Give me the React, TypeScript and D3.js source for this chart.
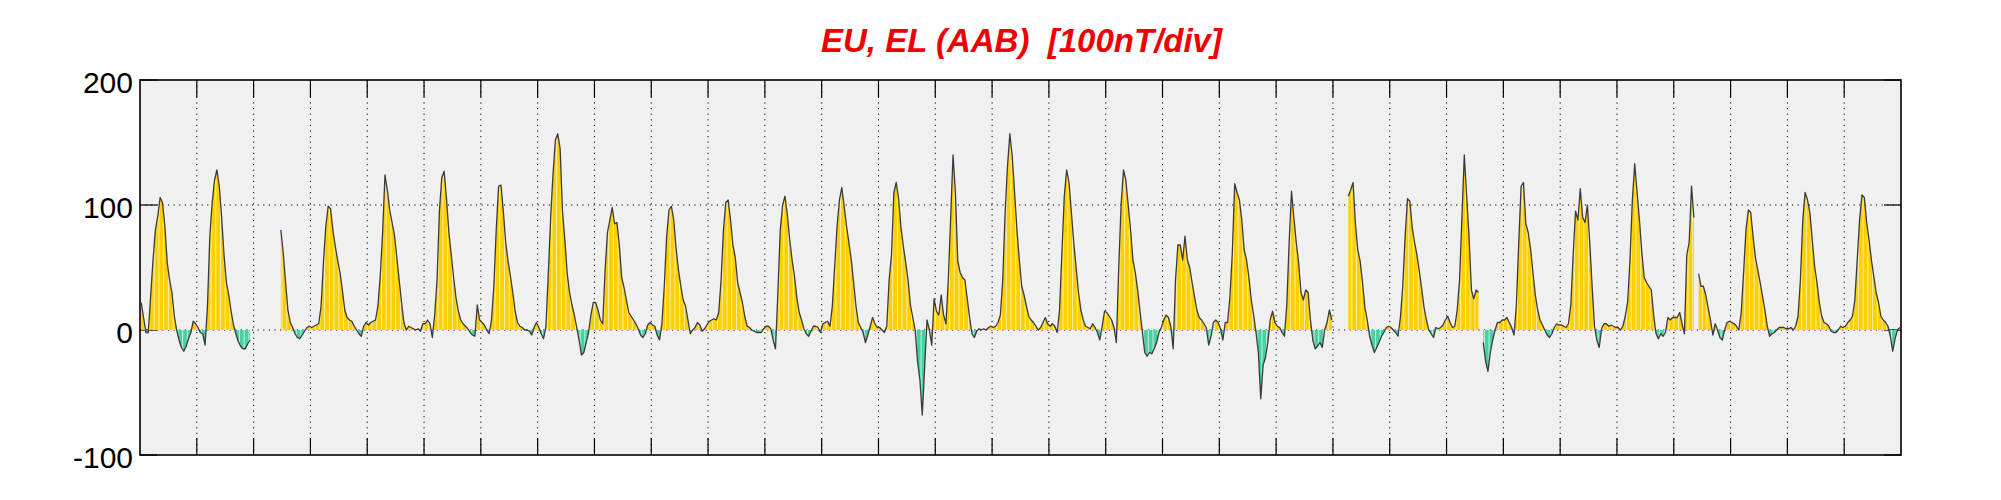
import * as d3 from "d3";

const titleText = "EU, EL (AAB)  [100nT/div]";
const yTicks = [200, 100, 0, -100];
const yGrid = [100, 0];
const dayCount = 31;

// hourly values in nT, one row of 24 hours per day (null = no data)
const week1 = [
  [22, 10, -2, -2, 27, 56, 80, 91, 106, 102, 83, 54, 40, 30, 11, 0, -8, -14, -17, -13, -7, -2, 7, 5],
  [2, -2, -3, -12, 19, 75, 102, 120, 128, 115, 90, 60, 38, 28, 15, 4, -3, -9, -13, -15, -15, -11, -8, null],
  [null, null, null, null, null, null, null, null, null, null, null, 80, 62, 38, 16, 6, 2, -3, -6, -7, -4, -1, 2, 3],
  [2, 3, 4, 5, 19, 54, 83, 99, 97, 80, 67, 56, 46, 32, 16, 10, 8, 7, 3, 0, -3, -5, 3, 6],
  [4, 6, 7, 8, 19, 43, 78, 124, 112, 96, 86, 76, 58, 40, 22, 6, 0, 3, 2, 1, 0, 1, -1, 5],
  [5, 8, 5, -6, 12, 40, 95, 122, 127, 105, 78, 60, 42, 26, 15, 8, 5, 3, 1, -2, -4, -5, 20, 8],
  [6, 4, 0, -3, 8, 35, 80, 115, 116, 95, 70, 55, 43, 30, 15, 6, 3, 2, 0, 0, -1, -4, 2, 6],
];
const week2 = [
  [2, -3, -7, 3, 45, 90, 125, 152, 157, 145, 95, 72, 45, 30, 20, 12, 2, -8, -20, -18, -10, -2, 12, 22],
  [22, 16, 8, 5, 48, 78, 88, 98, 85, 86, 68, 42, 34, 24, 14, 11, 8, 5, 1, -4, -6, -3, 4, 6],
  [4, 3, -4, -8, 5, 35, 75, 96, 99, 88, 65, 48, 35, 24, 19, 8, -3, 0, 2, 6, 4, -1, 1, 4],
  [7, 8, 9, 8, 14, 40, 80, 102, 104, 88, 68, 58, 38, 30, 22, 11, 3, 2, 0, -1, -2, -2, -2, 1],
  [3, 3, 1, -8, -15, 30, 80, 100, 107, 92, 72, 56, 43, 26, 14, 8, 1, -3, -5, -1, 3, 3, 2, -2],
  [5, 6, 7, 3, 19, 51, 83, 104, 114, 99, 83, 70, 56, 38, 19, 6, 2, -2, -10, -4, 3, 10, 5, 2],
  [2, 0, -2, 3, 40, 60, 110, 118, 105, 82, 67, 54, 40, 20, 10, 0, -25, -40, -68, -30, 8, 0, -12, 25],
];
const week3 = [
  [15, 12, 28, 12, 5, 40, 90, 140, 110, 55, 46, 42, 40, 25, 10, -3, -6, -1, 1, 0, 1, 0, 2, 3],
  [2, 3, 6, 12, 40, 94, 131, 157, 139, 110, 80, 56, 35, 28, 19, 11, 8, 6, 3, 0, 2, 6, 10, 5],
  [3, 5, 3, -2, 16, 62, 107, 128, 118, 94, 70, 50, 30, 16, 8, 3, 2, 1, 5, 2, -2, -8, 3, 15],
  [14, 11, 8, 2, -10, 50, 100, 128, 120, 100, 80, 56, 46, 32, 15, -2, -18, -21, -18, -19, -15, -10, -2, 2],
  [8, 12, 10, 3, -15, 40, 68, 68, 56, 75, 56, 50, 38, 27, 16, 10, 8, 5, 2, -12, -5, 6, 8, 6],
  [1, -8, 6, 6, 27, 62, 117, 110, 104, 88, 64, 56, 42, 24, 12, -2, -18, -55, -28, -22, -10, 8, 15, 6],
  [3, 2, -2, -5, 20, 70, 111, 90, 70, 54, 30, 24, 32, 30, 8, -8, -15, -13, -10, -14, 0, 6, 16, 8],
];
const week4 = [
  [null, null, null, null, null, null, 107, 112, 118, 85, 64, 55, 38, 18, 8, -5, -12, -18, -14, -10, -5, -2, 2, 3],
  [2, 0, -2, -5, 10, 35, 75, 105, 103, 82, 70, 60, 47, 33, 18, 8, 0, -3, -6, 2, 1, 2, 4, 8],
  [11, 6, 2, 3, 16, 40, 90, 140, 107, 75, 32, 25, 32, 30, null, -10, -25, -33, -18, -8, 0, 6, 6, 8],
  [8, 10, 6, 2, -4, 20, 70, 115, 118, 85, 78, 65, 46, 28, 16, 8, 4, 0, -4, -6, -3, 2, 5, 4],
  [4, 3, 2, 5, 20, 60, 95, 88, 113, 90, 86, 100, 70, 35, 3, -8, -14, 1, 5, 5, 3, 4, 3, 2],
  [2, 0, 3, 11, 22, 56, 104, 133, 110, 88, 62, 42, 38, 35, 32, 12, -3, -7, -3, -5, -2, 10, 8, 10],
  [10, 10, 14, 5, -3, 60, 70, 115, 90, null, 45, 35, 35, 28, 18, 8, -4, 5, 0, -6, -8, 0, 6, 7],
];
const week5 = [
  [6, 5, 3, 0, 14, 46, 80, 96, 94, 75, 58, 48, 38, 27, 16, 3, -5, -3, -2, 0, 2, 2, 2, 1],
  [1, 2, 0, 3, 11, 40, 88, 110, 104, 94, 72, 51, 38, 22, 11, 6, 5, 3, -1, -2, -2, 0, 3, 2],
  [3, 6, 8, 11, 24, 56, 88, 108, 106, 86, 72, 56, 43, 30, 22, 11, 8, 6, 3, -5, -17, -7, 0, 2],
];

type Pt = { t: number; v: number | null };

export default function App() {
  const width = 2001;
  const height = 500;
  const left = 140, right = 1901, top = 80, bottom = 455;

  const x = d3.scaleLinear().domain([0, dayCount]).range([left, right]);
  const y = d3.scaleLinear().domain([-100, 200]).range([bottom, top]);

  const days = [...week1, ...week2, ...week3, ...week4, ...week5];
  const pts: Pt[] = days.flatMap((row, d) =>
    row.map((v, h) => ({ t: d + (h + 0.5) / 24, v }))
  );

  const area = d3.area<Pt>()
    .defined(d => d.v != null)
    .x(d => x(d.t))
    .y0(y(0))
    .y1(d => y(d.v as number));
  const line = d3.line<Pt>()
    .defined(d => d.v != null)
    .x(d => x(d.t))
    .y(d => y(d.v as number));

  const areaD = area(pts) || "";
  const lineD = line(pts) || "";

  const dayTicks = d3.range(1, dayCount);
  const stripes = d3.range(1, dayCount * 12).map(k => x(k / 12));
  const tickLen = 17;

  return (
    <svg width={width} height={height} style={{ position: "absolute", left: 0, top: 0, background: "#fff" }}>
      <defs>
        <clipPath id="posClip">
          <rect x={left} y={top} width={right - left} height={y(0) - top} />
        </clipPath>
        <clipPath id="negClip">
          <rect x={left} y={y(0)} width={right - left} height={bottom - y(0)} />
        </clipPath>
        <clipPath id="fillClip">
          <path d={areaD} />
        </clipPath>
      </defs>

      <rect x={left} y={top} width={right - left} height={bottom - top} fill="#f0f0f0" />

      {/* grid */}
      {dayTicks.map(d => (
        <line key={"gx" + d} x1={x(d)} x2={x(d)} y1={top} y2={bottom}
          stroke="#000" strokeWidth={1} strokeDasharray="1.2,4.4" />
      ))}
      {yGrid.map(v => (
        <line key={"gy" + v} x1={left} x2={right} y1={y(v)} y2={y(v)}
          stroke="#000" strokeWidth={1} strokeDasharray="1.2,4.4" />
      ))}

      {/* ticks */}
      {dayTicks.map(d => (
        <g key={"tx" + d}>
          <line x1={x(d)} x2={x(d)} y1={top} y2={top + tickLen} stroke="#000" strokeWidth={1.2} />
          <line x1={x(d)} x2={x(d)} y1={bottom} y2={bottom - tickLen} stroke="#000" strokeWidth={1.2} />
        </g>
      ))}
      {yTicks.map(v => (
        <g key={"ty" + v}>
          <line x1={left} x2={left + tickLen} y1={y(v)} y2={y(v)} stroke="#000" strokeWidth={1.2} />
          <line x1={right} x2={right - tickLen} y1={y(v)} y2={y(v)} stroke="#000" strokeWidth={1.2} />
        </g>
      ))}

      {/* fills */}
      <path d={areaD} fill="#ffcf00" clipPath="url(#posClip)" />
      <path d={areaD} fill="#48d2a4" clipPath="url(#negClip)" />
      <g clipPath="url(#fillClip)">
        {stripes.map((sx, i) => (
          <line key={"s" + i} x1={sx} x2={sx} y1={top} y2={bottom}
            stroke="#fff" strokeWidth={0.9} strokeOpacity={0.75} />
        ))}
      </g>
      <path d={lineD} fill="none" stroke="#3a3a3a" strokeWidth={1.3} strokeLinejoin="round" />

      <rect x={left} y={top} width={right - left} height={bottom - top}
        fill="none" stroke="#000" strokeWidth={1.6} />

      {yTicks.map(v => (
        <text key={"ly" + v} x={133} y={y(v) + 13} textAnchor="end"
          fontFamily="'Liberation Sans', Arial, sans-serif" fontSize={30} fill="#000">
          {v}
        </text>
      ))}

      <text x={(left + right) / 2 + 1} y={52} textAnchor="middle"
        fontFamily="'Liberation Sans', Arial, sans-serif" fontSize={33}
        fontWeight="bold" fontStyle="italic" fill="#f00000" style={{ whiteSpace: "pre" }}>
        {titleText}
      </text>
    </svg>
  );
}
